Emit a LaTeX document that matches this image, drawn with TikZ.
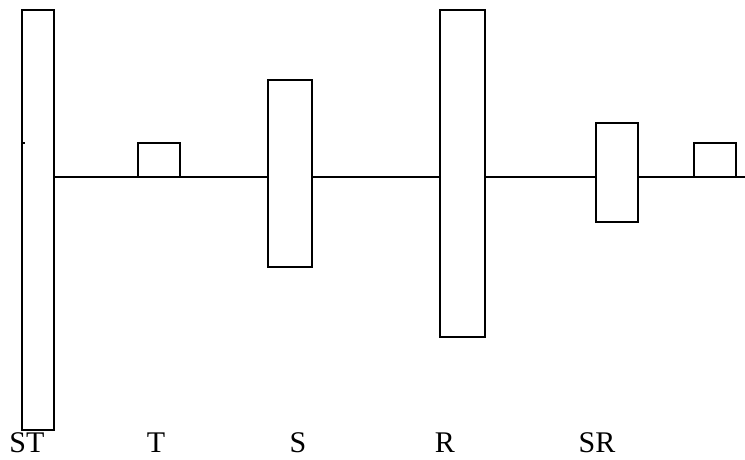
\documentclass[tikz,border=0pt]{standalone}
\usepackage{fontspec}
\setmainfont{Liberation Serif}
\begin{document}
\begin{tikzpicture}[x=1pt,y=-1pt,
  box/.style={draw=black, fill=white, line width=1.6pt, rectangle, inner sep=0pt},
  lbl/.style={anchor=base, inner sep=0pt, font=\fontsize{30}{30}\selectfont},
  shaft/.style={draw=black, line width=1.6pt}]
\useasboundingbox (0,0) rectangle (745,459);
% main line
\coordinate (lstart) at (54,177);
\coordinate (lend) at (745,177);
\draw[shaft] (lstart) -- (lend);
% boxes
\node[box, minimum width=32, minimum height=420] (st) at (38,220) {};
\node[box, minimum width=42, minimum height=34] (t) at (159,160) {};
\node[box, minimum width=44, minimum height=187] (s) at (290,173.5) {};
\node[box, minimum width=45, minimum height=327] (r) at (462.5,173.5) {};
\node[box, minimum width=42, minimum height=99] (sr) at (617,172.5) {};
\node[box, minimum width=42, minimum height=34] (e) at (715,160) {};
% small tick
\coordinate (tk1) at (22,143);
\coordinate (tk2) at (24.5,143);
\draw[line width=1.2pt] (tk1) -- (tk2);
% labels
\node[lbl] (lst) at (27,452) {ST};
\node[lbl] (lt) at (156,452) {T};
\node[lbl] (ls) at (298,452) {S};
\node[lbl] (lr) at (445,452) {R};
\node[lbl] (lsr) at (597,452) {SR};
\end{tikzpicture}
\end{document}
